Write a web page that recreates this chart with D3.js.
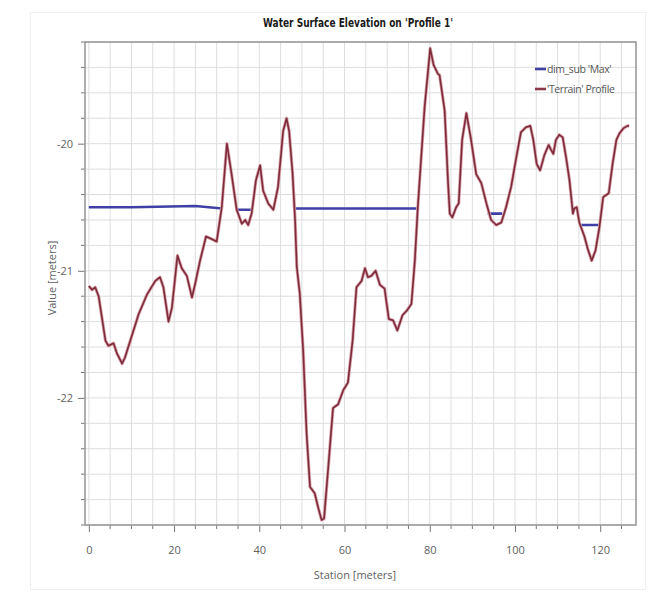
<!DOCTYPE html>
<html>
<head>
<meta charset="utf-8">
<script src="https://cdn.jsdelivr.net/npm/d3@7"></script>
<style>
  html, body { margin: 0; padding: 0; background: #fff; }
  svg { display: block; }
  .tick-label { font-family: "Open Sans", "Noto Sans", sans-serif; font-size: 11px; fill: #5f5f5f; }
</style>
</head>
<body>
<svg id="chart" width="653" height="596"></svg>
<script>
// Terrain profile along the cross-section (station in m, elevation in m)
const terrainStation = [0, 0.75, 1.5, 2.3, 3.9, 4.6, 5.8, 6.6, 7.8, 8.5, 11.7, 13.6, 15.6, 16.7, 17.5, 18.7, 19.5, 20.8, 21.8, 23.0, 24.2, 24.9, 26.1, 27.5, 28.8, 30.0, 31.2, 32.4, 33.5, 34.7, 35.9, 36.7, 37.4, 38.2, 39.2, 40.2, 40.9, 42.1, 43.3, 44.4, 45.6, 46.4, 47.0, 47.8, 48.4, 48.8, 49.5, 50.3, 51.1, 51.9, 53.0, 53.8, 54.6, 55.2, 56.2, 57.3, 58.5, 59.7, 60.8, 61.9, 62.8, 64.0, 64.8, 65.5, 66.3, 67.3, 68.3, 69.4, 70.4, 71.4, 72.4, 73.6, 74.7, 75.7, 76.5, 77.2, 78.8, 80.1, 80.9, 81.9, 82.3, 83.5, 84.3, 84.7, 85.3, 86.2, 86.8, 87.6, 88.6, 89.7, 90.9, 92.1, 93.3, 94.4, 95.6, 96.8, 97.9, 99.1, 100.3, 101.4, 102.6, 103.6, 104.3, 105.1, 105.9, 106.9, 107.9, 108.5, 109.0, 109.6, 110.4, 111.2, 112.0, 112.8, 113.6, 113.9, 114.5, 115.1, 116.3, 117.1, 118.0, 118.9, 119.8, 120.7, 122.0, 122.9, 123.8, 124.5, 125.4, 126.4, 126.8];
const terrainValue = [-21.12, -21.15, -21.13, -21.20, -21.55, -21.59, -21.57, -21.65, -21.73, -21.68, -21.34, -21.19, -21.08, -21.05, -21.13, -21.40, -21.29, -20.88, -20.98, -21.04, -21.21, -21.11, -20.92, -20.73, -20.75, -20.77, -20.50, -20.00, -20.24, -20.52, -20.63, -20.60, -20.64, -20.55, -20.29, -20.17, -20.37, -20.47, -20.52, -20.34, -19.90, -19.80, -19.90, -20.23, -20.60, -20.97, -21.18, -21.63, -22.28, -22.70, -22.75, -22.86, -22.96, -22.95, -22.54, -22.08, -22.05, -21.94, -21.88, -21.55, -21.13, -21.08, -20.98, -21.05, -21.04, -21.00, -21.11, -21.14, -21.38, -21.39, -21.47, -21.35, -21.31, -21.26, -20.92, -20.50, -19.71, -19.25, -19.38, -19.45, -19.46, -19.74, -20.31, -20.55, -20.58, -20.50, -20.47, -19.97, -19.76, -19.97, -20.24, -20.31, -20.47, -20.60, -20.64, -20.62, -20.50, -20.34, -20.11, -19.91, -19.87, -19.86, -19.97, -20.16, -20.21, -20.09, -20.01, -20.05, -20.08, -19.97, -19.93, -19.95, -20.11, -20.29, -20.55, -20.51, -20.50, -20.62, -20.73, -20.83, -20.92, -20.84, -20.66, -20.42, -20.39, -20.16, -19.97, -19.92, -19.88, -19.86, -19.86];

// Maximum water surface (null = dry, breaks the line)
const waterStation = [0, 10, 25, 31.3, 32.5, 34.6, 38.2, 40, 48.3, 77.2, 85, 93.6, 97.0, 105, 115.5, 119.8];
const waterValue = [-20.50, -20.50, -20.49, -20.51, null, -20.52, -20.52, null, -20.51, -20.51, null, -20.55, -20.55, null, -20.64, -20.64];

// Axis ticks
const xMajorTicks = [0, 20, 40, 60, 80, 100, 120];
const yMajorTicks = [-20, -21, -22];
const titleText = "Water Surface Elevation on 'Profile 1'";
const xAxisTitle = "Station [meters]";
const yAxisTitle = "Value [meters]";
const legendLabels = ["dim_sub 'Max'", "'Terrain' Profile"];

const svg = d3.select("#chart");
const plot = { left: 85, right: 636, top: 42, bottom: 525 };

const x = d3.scaleLinear().domain([-0.9, 128.4]).range([plot.left, plot.right]);
const y = d3.scaleLinear().domain([-23.0, -19.2]).range([plot.bottom, plot.top]);

// faint outer frame
svg.append("rect")
  .attr("x", 30.5).attr("y", 12.5).attr("width", 615).attr("height", 577)
  .attr("fill", "none").attr("stroke", "#efefef");

// grid
const xGrid = d3.range(0, 128.4, 5);
const yGrid = d3.range(-23.0, -19.19, 0.2).map(v => +v.toFixed(2));
const grid = svg.append("g");
grid.selectAll("line.xg").data(xGrid).join("line")
  .attr("x1", d => x(d)).attr("x2", d => x(d))
  .attr("y1", plot.top).attr("y2", plot.bottom)
  .attr("stroke", "#dedede").attr("stroke-width", 1);
grid.selectAll("line.yg").data(yGrid).join("line")
  .attr("x1", plot.left).attr("x2", plot.right)
  .attr("y1", d => y(d)).attr("y2", d => y(d))
  .attr("stroke", "#dedede").attr("stroke-width", 1);

// axes (plain hyphen for negative numbers)
const fmt = d => String(d);
const xAxis = d3.axisBottom(x).tickValues(xMajorTicks).tickSize(7).tickPadding(14).tickFormat(fmt);
const gx = svg.append("g").attr("transform", `translate(0,${plot.bottom})`).call(xAxis);
gx.select(".domain").remove();
gx.selectAll(".tick line").attr("stroke", "#777");
gx.selectAll(".tick text").attr("class", "tick-label");
const xMinor = xGrid.filter(d => !xMajorTicks.includes(d));
svg.append("g").selectAll("line").data(xMinor).join("line")
  .attr("x1", d => x(d)).attr("x2", d => x(d))
  .attr("y1", plot.bottom).attr("y2", plot.bottom + 4)
  .attr("stroke", "#777");

const yAxis = d3.axisLeft(y).tickValues(yMajorTicks).tickSize(7).tickPadding(5).tickFormat(fmt);
const gy = svg.append("g").attr("transform", `translate(${plot.left},0)`).call(yAxis);
gy.select(".domain").remove();
gy.selectAll(".tick line").attr("stroke", "#777");
gy.selectAll(".tick text").attr("class", "tick-label");
const yMinor = yGrid.filter(d => !yMajorTicks.some(t => Math.abs(t - d) < 1e-6));
svg.append("g").selectAll("line").data(yMinor).join("line")
  .attr("x1", plot.left - 4).attr("x2", plot.left)
  .attr("y1", d => y(d)).attr("y2", d => y(d))
  .attr("stroke", "#777");

// plot frame
svg.append("rect")
  .attr("x", plot.left).attr("y", plot.top)
  .attr("width", plot.right - plot.left).attr("height", plot.bottom - plot.top)
  .attr("fill", "none").attr("stroke", "#9a9a9a").attr("stroke-width", 1.6);

// clip for series
svg.append("clipPath").attr("id", "clip").append("rect")
  .attr("x", plot.left).attr("y", plot.top)
  .attr("width", plot.right - plot.left).attr("height", plot.bottom - plot.top);

const line = d3.line()
  .defined(d => d[1] !== null)
  .x(d => x(d[0])).y(d => y(d[1]));

const water = waterStation.map((s, i) => [s, waterValue[i]]);
const terrain = terrainStation.map((s, i) => [s, terrainValue[i]]);

const series = svg.append("g").attr("clip-path", "url(#clip)");
series.append("path").datum(water)
  .attr("d", line).attr("fill", "none")
  .attr("stroke", "#3f3fa6").attr("stroke-width", 2.6);
series.append("path").datum(terrain)
  .attr("d", line).attr("fill", "none")
  .attr("stroke", "#d7a3ab").attr("stroke-width", 3.2).attr("stroke-linejoin", "round");
series.append("path").datum(terrain)
  .attr("d", line).attr("fill", "none")
  .attr("stroke", "#7d2a3a").attr("stroke-width", 1.6).attr("stroke-linejoin", "round");

// title
svg.append("text")
  .attr("x", 358).attr("y", 27)
  .attr("text-anchor", "middle")
  .attr("font-family", "'Liberation Sans Narrow', 'DejaVu Sans Condensed', sans-serif")
  .attr("font-weight", "bold").attr("font-size", 12.5).attr("fill", "#1a1a1a")
  .attr("textLength", 190).attr("lengthAdjust", "spacingAndGlyphs")
  .text(titleText);

// axis titles
svg.append("text")
  .attr("x", 355).attr("y", 579)
  .attr("text-anchor", "middle")
  .attr("class", "tick-label")
  .text(xAxisTitle);
svg.append("text")
  .attr("transform", "translate(56,278) rotate(-90)")
  .attr("text-anchor", "middle")
  .attr("class", "tick-label")
  .text(yAxisTitle);

// legend
const legendColors = ["#3f3fa6", "#8c3a48"];
const lg = svg.append("g").attr("transform", "translate(535,69)");
legendLabels.forEach((lab, i) => {
  const row = lg.append("g").attr("transform", `translate(0,${i * 20})`);
  row.append("line").attr("x1", 0).attr("x2", 11).attr("y1", 0).attr("y2", 0)
    .attr("stroke", legendColors[i]).attr("stroke-width", 2.6);
  row.append("text").attr("x", 12).attr("y", 4)
    .attr("font-family", "'Open Sans', 'Noto Sans', sans-serif")
    .attr("font-size", 10.5).attr("letter-spacing", -0.4).attr("fill", "#555")
    .text(lab);
});
</script>
</body>
</html>
